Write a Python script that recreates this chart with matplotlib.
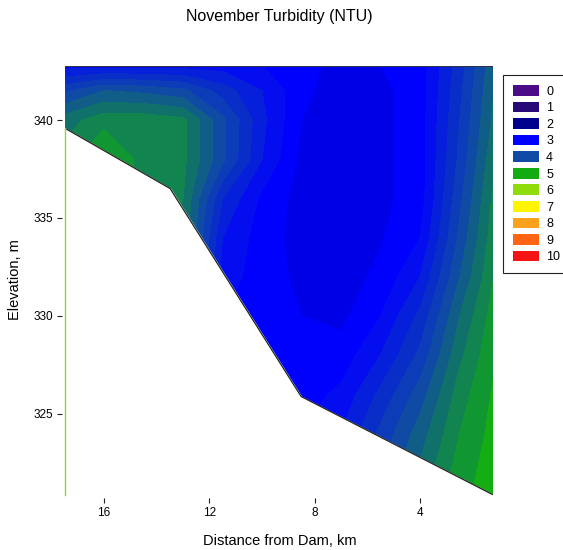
import numpy as np
import matplotlib
matplotlib.use('Agg')
import matplotlib.pyplot as plt
from matplotlib.colors import LinearSegmentedColormap, Normalize
from matplotlib.patches import Patch

plt.rcParams['font.family'] = ['Liberation Sans', 'DejaVu Sans']

# stations (km from dam) and elevations (m) of the turbidity grid
dist_km = [17.5, 16, 14.5, 13, 11.5, 10, 8.5, 7, 5.5, 4, 2.5, 1.2]
elev_m = [342.8, 341.5, 340, 338, 336, 334, 332, 330, 328, 326, 324, 322, 320.8]

# turbidity (NTU), one row per elevation, one value per station
turb = [
    [3.2, 3.2, 3.2, 3.2, 3.2, 3.1, 2.95, 2.85, 2.9, 3.0, 3.6, 4.25],
    [3.85, 4.1, 4.05, 3.95, 3.6, 3.3, 2.95, 2.8, 2.85, 3.0, 3.65, 4.3],
    [4.4, 4.62, 4.62, 4.55, 3.95, 3.35, 2.9, 2.8, 2.85, 3.0, 3.7, 4.35],
    [4.6, 4.95, 4.62, 4.55, 3.95, 3.3, 2.85, 2.77, 2.85, 3.0, 3.75, 4.45],
    [4.6, 4.85, 4.6, 4.5, 3.5, 3.05, 2.82, 2.75, 2.85, 3.0, 3.85, 4.55],
    [4.6, 4.7, 4.6, 4.45, 3.3, 3.0, 2.82, 2.75, 2.88, 3.1, 3.95, 4.62],
    [4.6, 4.7, 4.6, 4.4, 3.2, 3.0, 2.85, 2.8, 2.95, 3.3, 4.1, 4.7],
    [4.6, 4.7, 4.6, 4.4, 3.1, 3.0, 2.9, 2.85, 3.1, 3.55, 4.3, 4.8],
    [4.6, 4.7, 4.6, 4.4, 3.1, 3.0, 2.95, 2.98, 3.3, 3.75, 4.45, 4.87],
    [4.6, 4.7, 4.6, 4.4, 3.1, 3.0, 3.0, 3.15, 3.55, 4.0, 4.6, 4.93],
    [4.6, 4.7, 4.6, 4.4, 3.1, 3.0, 3.1, 3.3, 3.75, 4.2, 4.7, 4.97],
    [4.6, 4.7, 4.6, 4.4, 3.1, 3.0, 3.2, 3.45, 3.9, 4.35, 4.8, 5.0],
    [4.6, 4.7, 4.6, 4.4, 3.1, 3.0, 3.25, 3.5, 4.0, 4.4, 4.85, 5.0],
]

# reservoir bottom profile
bottom_km = [17.48, 13.49, 8.52, 1.22]
bottom_m = [339.58, 336.5, 325.88, 320.85]

# legend classes and colours
classes = ['0', '1', '2', '3', '4', '5', '6', '7', '8', '9', '10']
class_colors = ['#4B0A86', '#270A78', '#00008C', '#0000FF', '#0F4BA5',
                '#12AC12', '#8FDC0A', '#FFF500', '#FAA21E', '#FF6414',
                '#F51414']

cmap = LinearSegmentedColormap.from_list(
    'ntu', list(zip(np.linspace(0, 1, 11), class_colors)))
norm = Normalize(0, 10)

fig = plt.figure(figsize=(5.63, 5.5), dpi=100)
ax = fig.add_axes([0.1155, 0.1, 0.761, 0.78])

X, Y = np.meshgrid(dist_km, elev_m)
lev = np.concatenate([[0], np.arange(0.1, 10, 0.2), [10]])
ax.contourf(X, Y, np.array(turb), levels=lev, cmap=cmap, norm=norm,
            zorder=1)

# blank out everything below the bottom
ax.fill_between(bottom_km, bottom_m, 319, color='white', zorder=2)
ax.plot(bottom_km, bottom_m, color='#202020', lw=0.9, zorder=3)
ax.plot([17.48, 17.48], [320.85, bottom_m[0]], color='#8FD43C', lw=1.0,
        zorder=3, clip_on=False)
ax.plot([17.48, 1.22], [342.76, 342.76], color='#303050', lw=0.8, zorder=3)

ax.set_xlim(17.48, 1.22)
ax.set_ylim(320.85, 342.76)
ax.set_xticks([16, 12, 8, 4])
ax.set_yticks([325, 330, 335, 340])

for s in ['top', 'right']:
    ax.spines[s].set_visible(False)
ax.spines['left'].set_position(('outward', 2))
ax.spines['bottom'].set_position(('outward', 2))
ax.spines['left'].set_visible(False)
ax.spines['bottom'].set_visible(False)
ax.tick_params(direction='out', length=3.5, width=0.8, labelsize=8.5,
               pad=3, color='#222222')

fig.text(0.497, 1 - 16 / 550, 'November Turbidity (NTU)', ha='center',
         va='center', fontsize=11.5)
fig.text(0.497, 1 - 541 / 550, 'Distance from Dam, km', ha='center',
         va='center', fontsize=10.5)
fig.text(15 / 563, 1 - 280 / 550, 'Elevation, m', ha='center', va='center',
         rotation=90, fontsize=10.5)

handles = [Patch(facecolor=c, edgecolor='none') for c in class_colors]
leg = fig.legend(handles, classes, loc='upper left',
                 bbox_to_anchor=(503 / 563, 1 - 75 / 550), fontsize=9,
                 fancybox=False, edgecolor='#222222', framealpha=1,
                 handlelength=2.1, handleheight=0.95, labelspacing=0.31,
                 handletextpad=0.55, borderpad=0.8, borderaxespad=0)
leg.get_frame().set_linewidth(0.8)

fig.savefig('out.png', dpi=100)
